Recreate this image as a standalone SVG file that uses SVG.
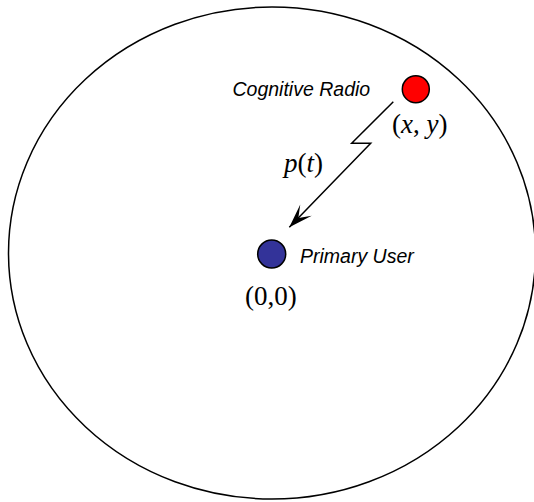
<svg xmlns="http://www.w3.org/2000/svg" width="534" height="502" viewBox="0 0 534 502">
<defs>
<style>
.sans{font-family:"Liberation Sans",Arial,sans-serif;font-style:italic;font-size:19.5px;fill:#000}
.math{font-family:"Liberation Serif","Times New Roman",serif;font-size:27px;fill:#000}
.it{font-style:italic}
.node{stroke:#000;stroke-width:1.5}
.conn{fill:none;stroke:#000;stroke-width:1.5}
</style>
<marker id="arrow" markerUnits="userSpaceOnUse" viewBox="-26 -10 28 20" refX="0" refY="0" markerWidth="28" markerHeight="20" orient="auto">
<path d="M0,0 L-24,-8 L-13,0 L-24,8 Z" fill="#000"/>
</marker>
</defs>
<g id="region">
<ellipse cx="272" cy="253" rx="263.5" ry="246" fill="none" stroke="#000" stroke-width="1.5"/>
</g>
<g id="connectors">
<path class="conn" d="M393.3,101.7 L351.7,143.3 L370.7,143.3 L289.3,227.3" marker-end="url(#arrow)"/>
</g>
<g id="cognitive-radio">
<circle class="node" cx="415.8" cy="89.2" r="13.5" fill="#FF0000"/>
<text class="sans" x="232.5" y="96">Cognitive Radio</text>
<text class="math" x="392" y="133">(<tspan class="it">x</tspan>, <tspan class="it">y</tspan>)</text>
</g>
<g id="primary-user">
<circle class="node" cx="271.7" cy="254" r="14" fill="#333399"/>
<text class="sans" x="300" y="263">Primary User</text>
<text class="math" x="245" y="305">(0,0)</text>
</g>
<g id="link-label">
<text class="math it" x="284" y="172">p<tspan font-style="normal">(</tspan>t<tspan font-style="normal">)</tspan></text>
</g>
</svg>
